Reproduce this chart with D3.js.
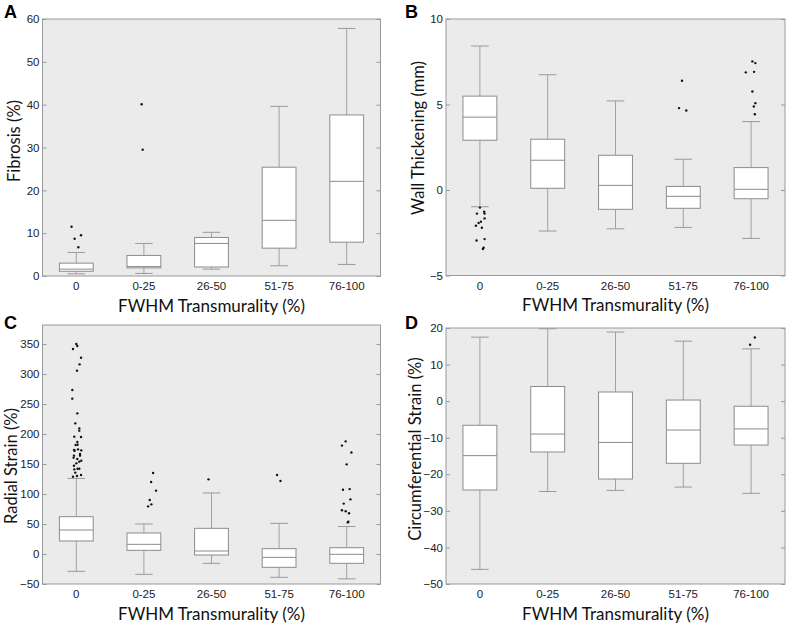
<!DOCTYPE html>
<html><head><meta charset="utf-8">
<script src="https://cdn.jsdelivr.net/npm/d3@7"></script>
<style>body{margin:0;background:#fff}svg{display:block}</style>
</head><body><svg id="c" width="787" height="626"></svg>
<script>
const categories = ["0", "0-25", "26-50", "51-75", "76-100"];
const xTitle = "FWHM Transmurality (%)";

// each box: [whiskerLow, q1, median, q3, whiskerHigh]
const fibrosisBoxes = [[0.5,1.1,1.6,3.0,5.5],[0.6,1.9,2.2,4.8,7.6],[1.6,2.1,7.6,9.0,10.2],[2.4,6.5,13.0,25.4,39.6],[2.7,7.9,22.1,37.6,57.8]];
const fibrosisOutliers = [[11.5,8.7,9.5,6.7],[40.1,29.5],[],[],[]];
const fibrosisJitter = [[-0.07,-0.025,0.07,0.03],[-0.033,-0.018],[],[],[]];
const fibrosisTicks = [0,10,20,30,40,50,60];

const wallBoxes = [[-0.98,2.91,4.26,5.49,8.42],[-2.40,0.10,1.74,2.97,6.74],[-2.27,-1.13,0.27,2.03,5.21],[-2.19,-1.07,-0.37,0.21,1.80],[-2.83,-0.51,0.04,1.31,4.0]];
const wallOutliers = [[-1.03,-1.38,-1.27,-1.38,-1.85,-1.66,-2.09,-1.93,-2.21,-2.95,-2.87,-3.38,-3.45],[],[],[6.39,4.79,4.65],[7.52,7.42,6.88,6.91,5.76,5.08,4.88,4.43]];
const wallJitter = [[0,-0.044,0.063,0.069,0.015,0.069,-0.059,-0.019,0.029,-0.049,0.069,0.055,0.044],[],[],[-0.019,-0.063,0.044],[0.019,0.063,-0.078,0.044,0.019,0.063,0.04,0.055]];
const wallTicks = [-5,0,5,10];

const radialBoxes = [[-28.9,21.7,40,62.2,126],[-33.9,6.1,16.1,35,50],[-15.6,-1.7,5,42.8,101.7],[-38.9,-22.2,-5.6,8.9,51.1],[-41.4,-15.5,-0.5,10.5,45.8]];
const radialOutliers = [
  [350,346.7,341.7,327.2,316.1,305.6,273.3,258.9,234.4,217.8,209.4,205.6,195.6,195,186.7,181.7,182.2,173.3,172.2,174.4,172.8,166.7,163.9,160.6,163.9,158.3,155.6,153.9,151.1,147.2,142.2,142.2,141.1,135.6,131.7,130,128.9],
  [135,120,105.6,90,82.8,79.4],
  [124.4],
  [131.7,121.7],
  [187.8,180.7,169.2,149.4,107.1,108.2,91.1,84,73,71.3,68,53.9,52.7]];
const radialJitter = [
  [0,0.015,-0.049,0.07,0.049,0.01,-0.059,-0.059,0.015,-0.015,0.044,0.044,-0.03,0.07,0.015,-0.01,0.019,-0.034,-0.025,0.025,0.074,0.055,-0.034,-0.04,0.055,0.015,0.074,0.044,0,-0.034,0.019,0.044,-0.03,-0.015,0.07,0.01,-0.049],
  [0.136,0.107,0.18,0.086,0.11,0.062],
  [-0.044],
  [-0.03,0.02],
  [-0.015,-0.07,0.07,0,-0.055,0.044,0.055,-0.044,-0.07,-0.015,0.034,0.025,0.015]];
const radialTicks = [-50,0,50,100,150,200,250,300,350];

const circBoxes = [[-46,-24.3,-14.9,-6.6,17.5],[-24.7,-13.9,-9.0,4.0,19.8],[-24.4,-21.3,-11.3,2.5,18.9],[-23.5,-17.0,-7.9,0.3,16.4],[-25.2,-12.0,-7.6,-1.4,14.3]];
const circOutliers = [[],[],[],[],[15.4,17.4]];
const circJitter = [[],[],[],[],[-0.015,0.055]];
const circTicks = [-50,-40,-30,-20,-10,0,10,20];

const panels = [
  {letter:"A", title:"Fibrosis (%)", boxes:fibrosisBoxes, out:fibrosisOutliers, jit:fibrosisJitter, ticks:fibrosisTicks, domain:[0,60],
   l:42.5, r:380.5, t:19, b:276, lx:4, ly:18, tx:14, ty:141},
  {letter:"B", title:"Wall Thickening (mm)", boxes:wallBoxes, out:wallOutliers, jit:wallJitter, ticks:wallTicks, domain:[-5,10],
   l:446, r:785, t:19, b:275.5, lx:405, ly:18, tx:418, ty:138},
  {letter:"C", title:"Radial Strain (%)", boxes:radialBoxes, out:radialOutliers, jit:radialJitter, ticks:radialTicks, domain:[-50,381.7],
   l:42.5, r:380.5, t:325, b:584, lx:4, ly:329, tx:11, ty:466},
  {letter:"D", title:"Circumferential Strain (%)", boxes:circBoxes, out:circOutliers, jit:circJitter, ticks:circTicks, domain:[-50,20],
   l:446, r:785, t:328, b:584, lx:405, ly:329, tx:415, ty:449}
];

const svg = d3.select("#c");
const tickFont = "'Liberation Sans', Arial, sans-serif";
const titleFont = "Lato, 'Open Sans', sans-serif";

panels.forEach(p => {
  const g = svg.append("g");
  const x = d3.scaleBand().domain(categories).range([p.l, p.r]).padding(0);
  const y = d3.scaleLinear().domain(p.domain).range([p.b, p.t]);
  const bw = x.bandwidth();
  const boxW = bw * 0.5, capW = bw * 0.26;

  g.append("rect").attr("x", p.l).attr("y", p.t).attr("width", p.r - p.l).attr("height", p.b - p.t)
    .attr("fill", "#ebebeb").attr("stroke", "none");

  const yl = g.append("g").attr("transform", `translate(${p.l},0)`)
    .call(d3.axisLeft(y).tickValues(p.ticks).tickSizeInner(-4).tickSizeOuter(0).tickPadding(3));
  const yr = g.append("g").attr("transform", `translate(${p.r},0)`)
    .call(d3.axisRight(y).tickValues(p.ticks).tickSizeInner(-4).tickSizeOuter(0).tickFormat(""));
  [yl, yr].forEach(a => { a.select(".domain").remove(); a.selectAll("line").attr("stroke", "#999"); });
  yl.selectAll("text").attr("font-family", tickFont).attr("font-size", 11.5).attr("fill", "#222");

  const xa = g.append("g").attr("transform", `translate(0,${p.b})`)
    .call(d3.axisBottom(x).tickSize(0).tickPadding(6));
  xa.select(".domain").remove();
  xa.selectAll("text").attr("font-family", tickFont).attr("font-size", 11.5).attr("fill", "#222");

  categories.forEach((c, i) => {
    const [lo, q1, md, q3, hi] = p.boxes[i];
    const cx = x(c) + bw / 2;
    const bg = g.append("g");
    bg.append("line").attr("x1", cx).attr("x2", cx).attr("y1", y(q3)).attr("y2", y(hi)).attr("stroke", "#a2a2a2");
    bg.append("line").attr("x1", cx).attr("x2", cx).attr("y1", y(q1)).attr("y2", y(lo)).attr("stroke", "#a2a2a2");
    bg.append("line").attr("x1", cx - capW/2).attr("x2", cx + capW/2).attr("y1", y(hi)).attr("y2", y(hi)).attr("stroke", "#999");
    bg.append("line").attr("x1", cx - capW/2).attr("x2", cx + capW/2).attr("y1", y(lo)).attr("y2", y(lo)).attr("stroke", "#999");
    bg.append("rect").attr("x", cx - boxW/2).attr("y", y(q3)).attr("width", boxW).attr("height", y(q1) - y(q3))
      .attr("fill", "#fff").attr("stroke", "#8c8c8c");
    bg.append("line").attr("x1", cx - boxW/2).attr("x2", cx + boxW/2).attr("y1", y(md)).attr("y2", y(md)).attr("stroke", "#8c8c8c");
    p.out[i].forEach((v, j) => {
      bg.append("circle").attr("cx", cx + p.jit[i][j] * bw).attr("cy", y(v)).attr("r", 1.2).attr("fill", "#111");
    });
  });

  g.append("rect").attr("x", p.l).attr("y", p.t).attr("width", p.r - p.l).attr("height", p.b - p.t)
    .attr("fill", "none").attr("stroke", "#9a9a9a");

  g.append("text").attr("x", p.lx).attr("y", p.ly).text(p.letter)
    .attr("font-family", "'Liberation Sans', Arial, sans-serif").attr("font-weight", "bold").attr("font-size", 18).attr("fill", "#000");

  g.append("text").attr("transform", `translate(${p.tx},${p.ty}) rotate(-90)`).attr("text-anchor", "middle")
    .attr("dy", "0.35em").text(p.title).attr("font-family", titleFont).attr("font-size", 16.5).attr("fill", "#111");

  g.append("text").attr("x", (p.l + p.r) / 2).attr("y", p.b + 30).attr("text-anchor", "middle").attr("dy", "0.35em")
    .text(xTitle).attr("font-family", titleFont).attr("font-size", 17).attr("fill", "#111");
});
</script></body></html>
